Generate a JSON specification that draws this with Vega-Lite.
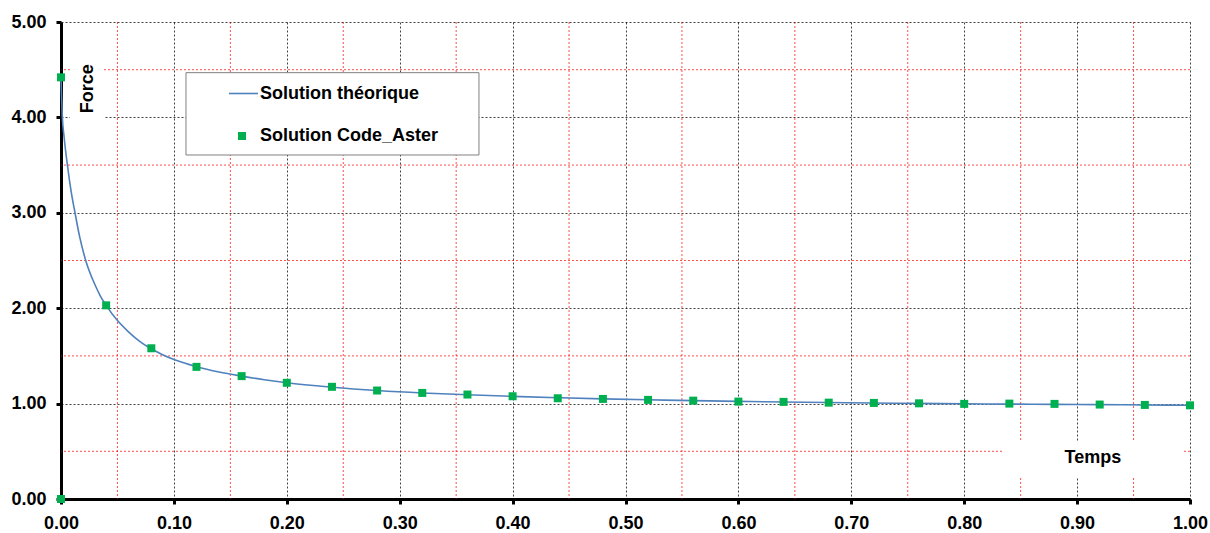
{
  "$schema": "https://vega.github.io/schema/vega-lite/v6.json",
  "width": 1129,
  "height": 477,
  "autosize": {"type": "none"},
  "padding": {"left": 61, "top": 22, "right": 20, "bottom": 34},
  "background": "white",
  "config": {
    "view": {"stroke": null},
    "font": "Liberation Sans"
  },
  "datasets": {
    "curves": [
      {"series": "Solution théorique", "t": 0, "F": 4.42}, {"series": "Solution théorique", "t": 0.0005, "F": 4.22},
      {"series": "Solution théorique", "t": 0.0012, "F": 4.0}, {"series": "Solution théorique", "t": 0.0027, "F": 3.8},
      {"series": "Solution théorique", "t": 0.0059, "F": 3.48}, {"series": "Solution théorique", "t": 0.0089, "F": 3.23},
      {"series": "Solution théorique", "t": 0.0124, "F": 3.0}, {"series": "Solution théorique", "t": 0.0165, "F": 2.75},
      {"series": "Solution théorique", "t": 0.0219, "F": 2.5}, {"series": "Solution théorique", "t": 0.0307, "F": 2.23},
      {"series": "Solution théorique", "t": 0.035, "F": 2.125}, {"series": "Solution théorique", "t": 0.04, "F": 2.03},
      {"series": "Solution théorique", "t": 0.05, "F": 1.87}, {"series": "Solution théorique", "t": 0.06, "F": 1.75},
      {"series": "Solution théorique", "t": 0.07, "F": 1.65}, {"series": "Solution théorique", "t": 0.08, "F": 1.575},
      {"series": "Solution théorique", "t": 0.09, "F": 1.513}, {"series": "Solution théorique", "t": 0.1, "F": 1.463},
      {"series": "Solution théorique", "t": 0.11, "F": 1.422}, {"series": "Solution théorique", "t": 0.12, "F": 1.387},
      {"series": "Solution théorique", "t": 0.14, "F": 1.331}, {"series": "Solution théorique", "t": 0.16, "F": 1.288},
      {"series": "Solution théorique", "t": 0.18, "F": 1.25}, {"series": "Solution théorique", "t": 0.2, "F": 1.218},
      {"series": "Solution théorique", "t": 0.24, "F": 1.172}, {"series": "Solution théorique", "t": 0.28, "F": 1.137},
      {"series": "Solution théorique", "t": 0.32, "F": 1.111}, {"series": "Solution théorique", "t": 0.36, "F": 1.092},
      {"series": "Solution théorique", "t": 0.4, "F": 1.076}, {"series": "Solution théorique", "t": 0.44, "F": 1.062},
      {"series": "Solution théorique", "t": 0.48, "F": 1.05}, {"series": "Solution théorique", "t": 0.52, "F": 1.04},
      {"series": "Solution théorique", "t": 0.56, "F": 1.031}, {"series": "Solution théorique", "t": 0.6, "F": 1.023},
      {"series": "Solution théorique", "t": 0.64, "F": 1.017}, {"series": "Solution théorique", "t": 0.68, "F": 1.011},
      {"series": "Solution théorique", "t": 0.72, "F": 1.006}, {"series": "Solution théorique", "t": 0.76, "F": 1.002},
      {"series": "Solution théorique", "t": 0.8, "F": 0.998}, {"series": "Solution théorique", "t": 0.84, "F": 0.995},
      {"series": "Solution théorique", "t": 0.88, "F": 0.992}, {"series": "Solution théorique", "t": 0.92, "F": 0.989},
      {"series": "Solution théorique", "t": 0.96, "F": 0.986}, {"series": "Solution théorique", "t": 1.0, "F": 0.983},
      {"series": "Solution Code_Aster", "t": 0, "F": 0}, {"series": "Solution Code_Aster", "t": 0, "F": 4.42},
      {"series": "Solution Code_Aster", "t": 0.04, "F": 2.03}, {"series": "Solution Code_Aster", "t": 0.08, "F": 1.58},
      {"series": "Solution Code_Aster", "t": 0.12, "F": 1.385}, {"series": "Solution Code_Aster", "t": 0.16, "F": 1.288},
      {"series": "Solution Code_Aster", "t": 0.2, "F": 1.218}, {"series": "Solution Code_Aster", "t": 0.24, "F": 1.176},
      {"series": "Solution Code_Aster", "t": 0.28, "F": 1.137}, {"series": "Solution Code_Aster", "t": 0.32, "F": 1.112},
      {"series": "Solution Code_Aster", "t": 0.36, "F": 1.095}, {"series": "Solution Code_Aster", "t": 0.4, "F": 1.077},
      {"series": "Solution Code_Aster", "t": 0.44, "F": 1.056}, {"series": "Solution Code_Aster", "t": 0.48, "F": 1.049},
      {"series": "Solution Code_Aster", "t": 0.52, "F": 1.039}, {"series": "Solution Code_Aster", "t": 0.56, "F": 1.031},
      {"series": "Solution Code_Aster", "t": 0.6, "F": 1.021}, {"series": "Solution Code_Aster", "t": 0.64, "F": 1.018},
      {"series": "Solution Code_Aster", "t": 0.68, "F": 1.01}, {"series": "Solution Code_Aster", "t": 0.72, "F": 1.007},
      {"series": "Solution Code_Aster", "t": 0.76, "F": 1.003}, {"series": "Solution Code_Aster", "t": 0.8, "F": 0.997},
      {"series": "Solution Code_Aster", "t": 0.84, "F": 1.0}, {"series": "Solution Code_Aster", "t": 0.88, "F": 0.997},
      {"series": "Solution Code_Aster", "t": 0.92, "F": 0.99}, {"series": "Solution Code_Aster", "t": 0.96, "F": 0.986},
      {"series": "Solution Code_Aster", "t": 1.0, "F": 0.982}
    ],
    "minorT": [{"v": 0.05}, {"v": 0.15}, {"v": 0.25}, {"v": 0.35}, {"v": 0.45}, {"v": 0.55}, {"v": 0.65}, {"v": 0.75}, {"v": 0.85}, {"v": 0.95}],
    "minorF": [{"v": 0.5}, {"v": 1.5}, {"v": 2.5}, {"v": 3.5}, {"v": 4.5}]
  },
  "layer": [
    {
      "data": {"name": "minorT"},
      "mark": {"type": "rule", "color": "#FF0000", "strokeDash": [2, 2], "opacity": 0.7, "strokeWidth": 1},
      "encoding": {
        "x": {"field": "v", "type": "quantitative", "scale": {"domain": [0, 1], "nice": false, "zero": false},
          "axis": {"values": [0, 0.1, 0.2, 0.3, 0.4, 0.5, 0.6, 0.7, 0.8, 0.9, 1.0], "format": ".2f",
            "grid": true, "gridColor": "#000000", "gridDash": [2, 2], "gridOpacity": 0.75, "gridWidth": 1,
            "domain": true, "domainColor": "#000000", "domainWidth": 3,
            "ticks": true, "tickColor": "#000000", "tickWidth": 3, "tickSize": 5,
            "labelFont": "Liberation Sans", "labelFontSize": 18, "labelFontWeight": "bold", "labelColor": "#000000",
            "labelPadding": 10, "labelFlush": false, "labelOverlap": false, "title": null, "zindex": 0}}
      }
    },
    {
      "data": {"name": "minorF"},
      "mark": {"type": "rule", "color": "#FF0000", "strokeDash": [2, 2], "opacity": 0.7, "strokeWidth": 1},
      "encoding": {
        "y": {"field": "v", "type": "quantitative", "scale": {"domain": [0, 5], "nice": false, "zero": false},
          "axis": {"values": [0, 1, 2, 3, 4, 5], "format": ".2f",
            "grid": true, "gridColor": "#000000", "gridDash": [2, 2], "gridOpacity": 0.75, "gridWidth": 1,
            "domain": true, "domainColor": "#000000", "domainWidth": 3,
            "ticks": true, "tickColor": "#000000", "tickWidth": 3, "tickSize": 5,
            "labelFont": "Liberation Sans", "labelFontSize": 18, "labelFontWeight": "bold", "labelColor": "#000000",
            "labelPadding": 10, "labelFlush": false, "labelOverlap": false, "title": null, "zindex": 0}}
      }
    },
    {
      "data": {"values": [{}]},
      "mark": {"type": "rect", "fill": "white"},
      "encoding": {
        "x": {"datum": 0.8335, "type": "quantitative", "axis": {"title": null}},
        "x2": {"datum": 0.9938},
        "y": {"datum": 0.22, "type": "quantitative", "axis": {"title": null}},
        "y2": {"datum": 0.608}
      }
    },
    {
      "data": {"values": [{}]},
      "mark": {"type": "rect", "fill": "white"},
      "encoding": {
        "x": {"datum": 0.008, "type": "quantitative", "axis": {"title": null}},
        "x2": {"datum": 0.038},
        "y": {"datum": 3.75, "type": "quantitative", "axis": {"title": null}},
        "y2": {"datum": 4.9}
      }
    },
    {
      "data": {"values": [{}]},
      "mark": {"type": "rect", "fill": "white", "stroke": "#808080", "strokeWidth": 1},
      "encoding": {
        "x": {"datum": 0.1107, "type": "quantitative", "axis": {"title": null}},
        "x2": {"datum": 0.3702},
        "y": {"datum": 3.606, "type": "quantitative", "axis": {"title": null}},
        "y2": {"datum": 4.469}
      }
    },
    {
      "data": {"name": "curves"},
      "transform": [{"filter": "datum.series === 'Solution théorique'"}],
      "mark": {"type": "line", "strokeWidth": 1.6, "interpolate": "monotone"},
      "encoding": {
        "x": {"field": "t", "type": "quantitative", "axis": {"title": null}},
        "y": {"field": "F", "type": "quantitative", "axis": {"title": null}},
        "color": {"field": "series", "type": "nominal",
          "scale": {"domain": ["Solution théorique"], "range": ["#4F81BD"]},
          "legend": {
            "orient": "none", "legendX": 167, "legendY": 56, "title": null, "padding": 0,
            "labelFont": "Liberation Sans", "labelFontSize": 18, "labelFontWeight": "bold", "labelColor": "#000000",
            "labelOffset": 1, "labelLimit": 0, "symbolType": "stroke", "symbolSize": 841, "symbolStrokeWidth": 1.6
          }}
      }
    },
    {
      "data": {"name": "curves"},
      "transform": [{"filter": "datum.series === 'Solution Code_Aster'"}],
      "mark": {"type": "point", "shape": "square", "filled": true, "size": 64, "opacity": 1},
      "encoding": {
        "x": {"field": "t", "type": "quantitative", "axis": {"title": null}},
        "y": {"field": "F", "type": "quantitative", "axis": {"title": null}},
        "fill": {"field": "series", "type": "nominal",
          "scale": {"domain": ["Solution Code_Aster"], "range": ["#00B050"]},
          "legend": {
            "orient": "none", "legendX": 172, "legendY": 105, "title": null, "padding": 0,
            "labelFont": "Liberation Sans", "labelFontSize": 18, "labelFontWeight": "bold", "labelColor": "#000000",
            "labelOffset": 9, "labelLimit": 0, "symbolType": "square", "symbolSize": 64, "symbolStrokeWidth": 0
          }}
      }
    },
    {
      "data": {"values": [{}]},
      "mark": {"type": "text", "text": "Temps", "font": "Liberation Sans", "fontSize": 18, "fontWeight": "bold", "color": "#000000", "align": "center", "baseline": "middle"},
      "encoding": {
        "x": {"datum": 0.914, "type": "quantitative", "axis": {"title": null}},
        "y": {"datum": 0.43, "type": "quantitative", "axis": {"title": null}}
      }
    },
    {
      "data": {"values": [{}]},
      "mark": {"type": "text", "text": "Force", "font": "Liberation Sans", "fontSize": 18, "fontWeight": "bold", "color": "#000000", "align": "center", "baseline": "middle", "angle": 270},
      "encoding": {
        "x": {"datum": 0.0235, "type": "quantitative", "axis": {"title": null}},
        "y": {"datum": 4.3, "type": "quantitative", "axis": {"title": null}}
      }
    }
  ]
}
